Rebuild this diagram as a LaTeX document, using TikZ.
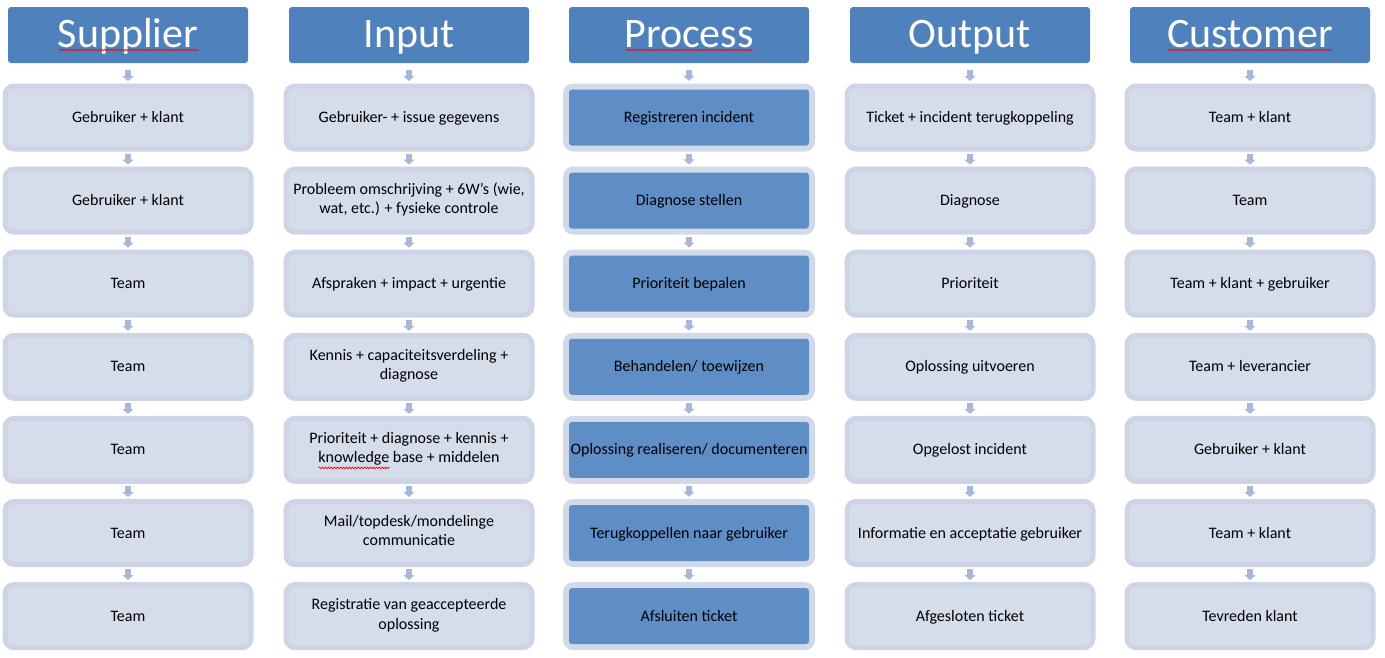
\documentclass[tikz,border=0pt]{standalone}
\usepackage{fontspec}
\setmainfont{Carlito}
\usetikzlibrary{arrows.meta,decorations.pathmorphing,calc}
\definecolor{hdr}{HTML}{4F81BD}
\definecolor{boxfill}{HTML}{D5DCEA}
\definecolor{boxline}{HTML}{CCD4E6}
\definecolor{ring}{HTML}{D2D9E8}
\definecolor{procblue}{HTML}{5F8DC6}
\definecolor{arr}{HTML}{A9B8D9}
\newcommand\cellstrut{\rule[-4.75pt]{0pt}{19.5pt}}
\begin{document}
\begin{tikzpicture}[x=1pt,y=-1pt,
  hdrbox/.style={fill=hdr, rounded corners=3pt, minimum width=240pt, minimum height=56pt,
    text=white, font=\fontsize{42}{46}\selectfont, inner sep=0pt, text height=30pt, text depth=6pt},
  cellbox/.style={fill=boxfill, draw=boxline, line width=5pt, rounded corners=9pt,
    minimum width=246pt, minimum height=63pt, align=center, inner sep=0pt, text=black,
    font=\fontsize{16}{19.5}\selectfont, execute at begin node=\cellstrut, execute at end node=\cellstrut},
  procouter/.style={fill=ring, rounded corners=10pt, minimum width=252pt, minimum height=68pt, inner sep=0pt},
  procinner/.style={fill=procblue, rounded corners=3pt, minimum width=240pt, minimum height=56pt,
    align=center, inner sep=0pt, text=black,
    font=\fontsize{16}{19.5}\selectfont, execute at begin node=\cellstrut, execute at end node=\cellstrut},
  flow/.style={draw=arr, line width=6.5pt, -{Triangle[width=11pt,length=5pt]}},
  wavy/.style={draw=red, line width=0.7pt, decorate, decoration={snake, segment length=3pt, amplitude=0.8pt}}]
\useasboundingbox (0,0) rectangle (1385,657);

% headers
\node[hdrbox] (hs) at (128,35) {Supplier};
\node[hdrbox] (hi) at (409,35) {Input};
\node[hdrbox] (hp) at (689,35) {Process};
\node[hdrbox] (ho) at (970,35) {Output};
\node[hdrbox] (hc) at (1250,35) {Customer};

% supplier
\foreach \t [count=\j] in {Gebruiker + klant, Gebruiker + klant, Team, Team, Team, Team, Team}
  \node[cellbox] (s\j) at (128,{117.5+83.1*(\j-1)}) {\t};

% input
\foreach \t [count=\j] in {Gebruiker- + issue gegevens,
  {Probleem omschrijving + 6W’s (wie,\\wat, etc.) + fysieke controle},
  Afspraken + impact + urgentie,
  Kennis + capaciteitsverdeling +\\diagnose,
  Prioriteit + diagnose + kennis +\\knowledge base + middelen,
  Mail/topdesk/mondelinge\\communicatie,
  Registratie van geaccepteerde\\oplossing}
  \node[cellbox] (i\j) at (409,{117.5+83.1*(\j-1)}) {\t};

% process
\foreach \t [count=\j] in {Registreren incident, Diagnose stellen, Prioriteit bepalen,
  Behandelen/ toewijzen, Oplossing realiseren/ documenteren, Terugkoppellen naar gebruiker, Afsluiten ticket}{
  \node[procouter] (p\j) at (689,{117.5+83.1*(\j-1)}) {};
  \node[procinner] (pin\j) at (p\j) {\t};
}

% output
\foreach \t [count=\j] in {Ticket + incident terugkoppeling, Diagnose, Prioriteit, Oplossing uitvoeren,
  Opgelost incident, Informatie en acceptatie gebruiker, Afgesloten ticket}
  \node[cellbox] (o\j) at (970,{117.5+83.1*(\j-1)}) {\t};

% customer
\foreach \t [count=\j] in {Team + klant, Team, Team + klant + gebruiker, Team + leverancier,
  Gebruiker + klant, Team + klant, Tevreden klant}
  \node[cellbox] (c\j) at (1250,{117.5+83.1*(\j-1)}) {\t};

% connectors
\foreach \col in {s,i,p,o,c}{
  \draw[flow, shorten <=7pt, shorten >=2.5pt] (h\col) -- (\col1);
  \foreach \j [evaluate=\j as \k using int(\j+1)] in {1,...,6}
    \draw[flow, shorten <=2pt, shorten >=2pt] (\col\j) -- (\col\k);
}

% spell-check marks
\draw[wavy] ($(hs)+(-69,15)$) -- ($(hs)+(70,15)$);
\draw[wavy] ($(hp)+(-63,15)$) -- ($(hp)+(64,15)$);
\draw[wavy] ($(hc)+(-82,15)$) -- ($(hc)+(82,15)$);
\draw[wavy] ($(i5)+(-90.5,18)$) -- ($(i5)+(-19.5,18)$);
\end{tikzpicture}
\end{document}
